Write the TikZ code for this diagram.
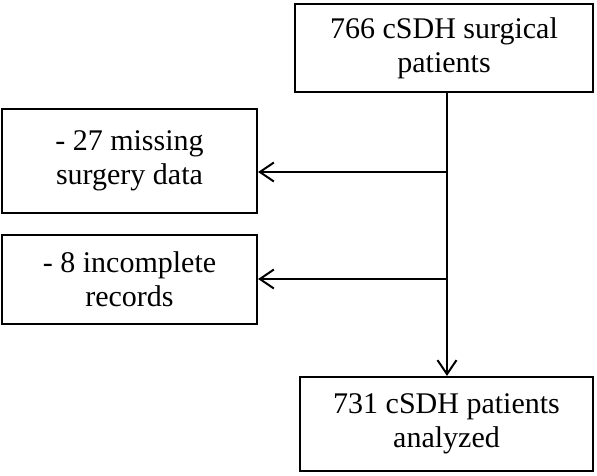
\documentclass[tikz,border=0pt]{standalone}
\usepackage{fontspec}
\setmainfont{Liberation Serif}
\usetikzlibrary{arrows.meta}

\tikzset{
  flowbox/.style={draw, line width=2.2pt, align=center, inner sep=0pt,
    font=\fontsize{30}{34}\selectfont},
  arr/.style={line width=2pt, -{Straight Barb[length=14pt,width=19pt,line width=2pt]}}
}

\begin{document}
\begin{tikzpicture}[x=1pt,y=-1pt]
  % --- page frame ---
  \useasboundingbox (0,0) rectangle (597,475);

  % --- boxes ---
  \node[flowbox, minimum width=298pt, minimum height=88pt] (total) at (444,48)
    {766 cSDH surgical\\patients};
  \node[flowbox, minimum width=255pt, minimum height=104pt] (miss) at (129.5,161)
    {- 27 missing\\surgery data};
  \node[flowbox, minimum width=255pt, minimum height=89pt] (incomp) at (129.5,279.5)
    {- 8 incomplete\\records};
  \node[flowbox, minimum width=293pt, minimum height=94pt] (final) at (446.5,424)
    {731 cSDH patients\\analyzed};

  % --- branch points on the main line ---
  \coordinate (j1) at (447,172);
  \coordinate (j2) at (447,279);

  % --- connectors ---
  \draw[arr] (total.south -| j1) -- (final.north -| j1);
  \draw[arr] (j1) -- (j1 -| miss.east);
  \draw[arr] (j2) -- (j2 -| incomp.east);
\end{tikzpicture}
\end{document}
